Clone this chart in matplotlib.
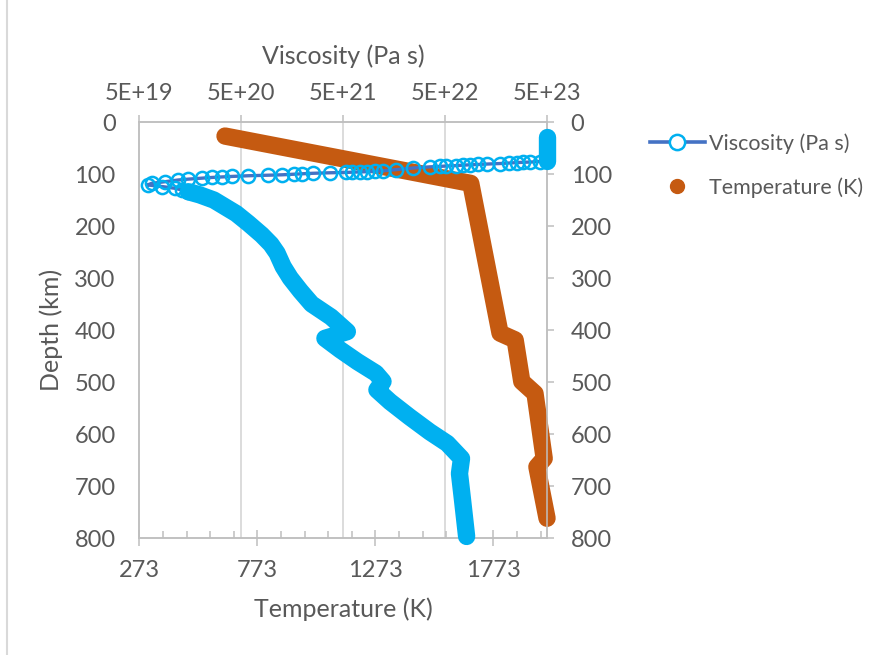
import matplotlib
matplotlib.use("Agg")
import matplotlib.pyplot as plt
import matplotlib.transforms as mtransforms
import numpy as np
from matplotlib.lines import Line2D
from matplotlib.ticker import FixedLocator, MultipleLocator, NullLocator

plt.rcParams["font.family"] = ["Lato", "DejaVu Sans"]

TEXT = "#595959"
AXIS = "#BFBFBF"
GRID = "#D9D9D9"
CYAN = "#00B0F0"
LINE_BLUE = "#4472C4"
ORANGE = "#C55A11"

# temperature profile: depth (km) -> T (K)
TEMP_DEPTH = [27, 118, 406, 419, 499, 522, 647, 663, 762]
TEMP_K = [636, 1677, 1801, 1865, 1893, 1949, 1988, 1957, 2000]

# viscosity profile, stored as log10(Pa s)
# rigid lid
VISC_LID_DEPTH = [28, 75]
VISC_LID_LOG = [23.70, 23.70]

# base of the lithosphere, steep drop
VISC_BASE_DEPTH = [
    76.0, 77.0, 77.5, 78.0, 78.8, 79.8, 80.8, 81.6, 82.3, 83.0,
    83.8, 84.6, 85.3, 86.2, 88.5, 91.5, 93.8, 94.8, 95.5, 96.0,
    96.5, 96.9, 97.6, 98.6, 99.5, 100.3, 101.5, 102.3, 103.3, 104.6,
    105.6, 106.6, 108.0, 109.8, 111.5, 114.8, 117.9, 121.0, 124.0, 127.5,
    131.0, 134.0,
]
VISC_BASE_LOG = [
    23.63, 23.53, 23.46, 23.40, 23.33, 23.24, 23.11, 23.02, 22.94, 22.87,
    22.81, 22.71, 22.65, 22.55, 22.38, 22.22, 22.09, 22.01, 21.93, 21.86,
    21.79, 21.73, 21.57, 21.40, 21.30, 21.22, 21.10, 20.96, 20.77, 20.61,
    20.51, 20.41, 20.31, 20.18, 20.08, 19.95, 19.82, 19.78, 19.92, 20.05,
    20.12, 20.18,
]

# sub-lithospheric mantle
VISC_MANTLE_DEPTH = [
    134, 140, 150, 163, 176, 195, 217, 235, 252, 278,
    300, 325, 350, 375, 403, 416, 438, 461, 483, 499,
    515, 538, 567, 596, 618, 647, 676, 727, 797,
]
VISC_MANTLE_LOG = [
    20.18, 20.29, 20.43, 20.54, 20.65, 20.77, 20.90, 20.99, 21.05, 21.11,
    21.18, 21.28, 21.39, 21.58, 21.74, 21.52, 21.67, 21.84, 22.02, 22.09,
    22.03, 22.16, 22.35, 22.55, 22.72, 22.86, 22.84, 22.87, 22.91,
]

VISC_TICKS = [5e19, 5e20, 5e21, 5e22, 5e23]
VISC_TICK_LABELS = ["5E+19", "5E+20", "5E+21", "5E+22", "5E+23"]
TEMP_TICKS = [273, 773, 1273, 1773]
DEPTH_TICKS = [0, 100, 200, 300, 400, 500, 600, 700, 800]

BAND_LW = 12.5


def main() -> None:
    fig = plt.figure(figsize=(8.69, 6.55), dpi=100)
    ax = fig.add_axes([0.1603, 0.1786, 0.4692, 0.6351])
    ax_v = ax.twiny()

    # vertical grid follows the viscosity decades, kept under both series
    grid_trans = mtransforms.blended_transform_factory(ax_v.transData, ax.transAxes)
    for v in VISC_TICKS[1:-1]:
        ax.add_line(Line2D([v, v], [0, 1], transform=grid_trans, color=GRID, lw=1.3, zorder=0))

    # temperature
    ax.plot(TEMP_K, TEMP_DEPTH, color=ORANGE, lw=BAND_LW, solid_capstyle="round",
            solid_joinstyle="round", clip_on=False, zorder=3)

    # viscosity
    depth_all = VISC_LID_DEPTH + VISC_BASE_DEPTH + VISC_MANTLE_DEPTH[1:]
    visc_all = 10 ** np.array(VISC_LID_LOG + VISC_BASE_LOG + VISC_MANTLE_LOG[1:])
    ax_v.plot(visc_all, depth_all, color=LINE_BLUE, lw=2.4, clip_on=False, zorder=2)
    for d, lv in ((VISC_LID_DEPTH, VISC_LID_LOG), (VISC_MANTLE_DEPTH, VISC_MANTLE_LOG)):
        ax_v.plot(10 ** np.array(lv), d, color=CYAN, lw=BAND_LW, solid_capstyle="round",
                  solid_joinstyle="round", clip_on=False, zorder=3)
    ax_v.plot(10 ** np.array(VISC_BASE_LOG), VISC_BASE_DEPTH, ls="none", marker="o",
              markersize=9.5, markerfacecolor="none", markeredgecolor=CYAN,
              markeredgewidth=1.8, clip_on=False, zorder=4)

    # bottom axis: temperature
    ax.set_xlim(273, 2000)
    ax.set_ylim(800, 0)
    ax.xaxis.set_major_locator(FixedLocator(TEMP_TICKS))
    ax.xaxis.set_minor_locator(MultipleLocator(100, offset=73))
    ax.yaxis.set_major_locator(FixedLocator(DEPTH_TICKS))
    ax.tick_params(axis="x", which="major", direction="inout", length=11, width=1.1,
                   color=AXIS, labelsize=17, labelcolor=TEXT, pad=10)
    ax.tick_params(axis="x", which="minor", direction="in", length=5, width=1.1, color=AXIS)
    ax.tick_params(axis="y", which="major", direction="out", length=5, width=1.1,
                   color=AXIS, left=False, right=True, labelleft=True, labelright=True,
                   labelsize=17, labelcolor=TEXT, pad=12)

    # top axis: viscosity
    ax_v.set_xscale("log")
    ax_v.set_xlim(5e19, 5e23)
    ax_v.xaxis.set_major_locator(FixedLocator(VISC_TICKS))
    ax_v.xaxis.set_minor_locator(NullLocator())
    ax_v.set_xticklabels(VISC_TICK_LABELS)
    ax_v.tick_params(axis="x", which="major", direction="out", length=5, width=1.1,
                     color=AXIS, labelsize=17, labelcolor=TEXT, pad=8)

    for a in (ax, ax_v):
        for sp in a.spines.values():
            sp.set_color(AXIS)
            sp.set_linewidth(1.1)

    ax.set_xlabel("Temperature (K)", fontsize=18, color=TEXT, labelpad=12)
    ax.set_ylabel("Depth (km)", fontsize=18, color=TEXT, labelpad=8)
    ax_v.set_xlabel("Viscosity (Pa s)", fontsize=18, color=TEXT, labelpad=14)

    h_visc = Line2D([], [], color=LINE_BLUE, lw=2.6, marker="o", markersize=11,
                    markerfacecolor="white", markeredgecolor=CYAN, markeredgewidth=1.8)
    h_temp = Line2D([], [], ls="none", marker="o", markersize=10, color=ORANGE)
    leg = fig.legend([h_visc, h_temp], ["Viscosity (Pa s)", "Temperature (K)"],
                     loc="upper left", bbox_to_anchor=(650 / 869, 1 - 133 / 655),
                     frameon=False, fontsize=15.5, handlelength=2.55, handletextpad=0.2,
                     labelspacing=1.1, borderpad=0, borderaxespad=0)
    for t in leg.get_texts():
        t.set_color(TEXT)

    # chart frame edge
    fig.add_artist(Line2D([7 / 869, 7 / 869], [0, 1], transform=fig.transFigure,
                          color=GRID, lw=1.5))

    fig.savefig("out.png", dpi=100)
    plt.close(fig)


if __name__ == "__main__":
    main()
